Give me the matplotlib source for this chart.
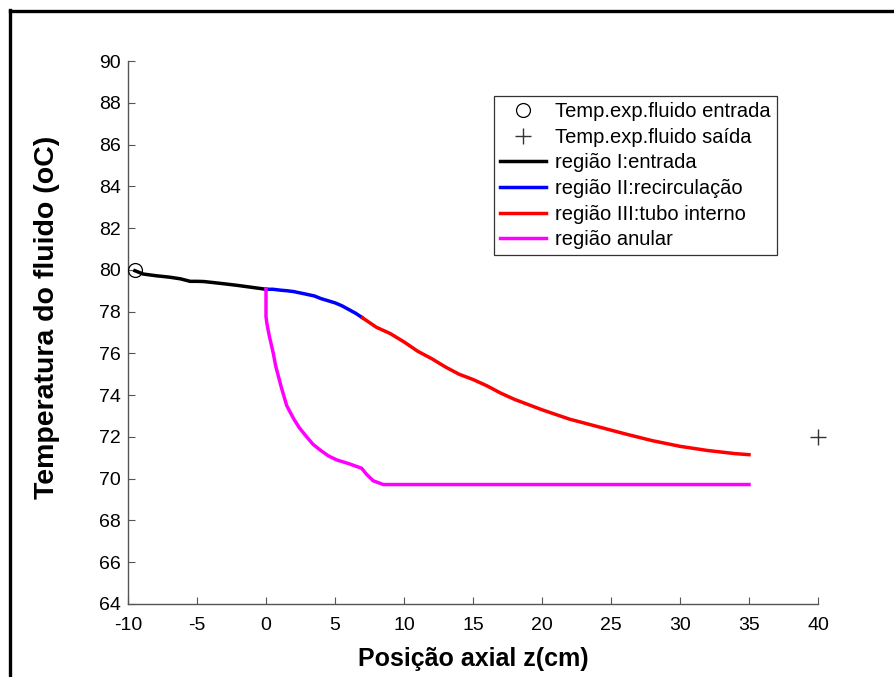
import matplotlib
matplotlib.use("Agg")
import matplotlib.pyplot as plt
from matplotlib.lines import Line2D

plt.rcParams['font.family'] = ['Liberation Sans', 'DejaVu Sans']
plt.rcParams['axes.unicode_minus'] = False

# Experimental points
z_in, T_in = [-9.5], [80.0]
z_out, T_out = [40.0], [72.0]

# Region I: inlet
z_reg1 = [-9.5, -8.9, -8.0, -7.0, -6.2, -5.5, -5.0, -4.5, -3.0, -2.0, -1.0, 0.0]
T_reg1 = [79.96, 79.80, 79.72, 79.65, 79.57, 79.45, 79.45, 79.44, 79.33, 79.25, 79.16, 79.07]

# Region II: recirculation
z_reg2 = [0.0, 0.5, 1.0, 1.5, 2.0, 2.8, 3.5, 4.0, 4.5, 5.0, 5.5, 6.0, 6.5, 7.0]
T_reg2 = [79.07, 79.07, 79.03, 79.00, 78.96, 78.85, 78.75, 78.62, 78.52, 78.42, 78.28, 78.10, 77.92, 77.70]

# Region III: inner tube
z_reg3 = [7.0, 8.0, 9.0, 10.0, 11.0, 12.0, 13.0, 14.0, 15.0, 16.0, 17.0, 18.0, 19.0,
          20.0, 22.0, 24.0, 26.0, 28.0, 30.0, 32.0, 34.0, 35.0]
T_reg3 = [77.70, 77.25, 76.95, 76.55, 76.10, 75.75, 75.35, 75.00, 74.75, 74.45, 74.10,
          73.80, 73.55, 73.30, 72.85, 72.50, 72.15, 71.82, 71.55, 71.35, 71.20, 71.15]

# Annular region
z_anul = [0.0, 0.0, 0.05, 0.1, 0.25, 0.53, 0.7, 0.9, 1.1, 1.5, 1.98, 2.4, 2.95, 3.4, 3.91,
          4.5, 5.12, 6.0, 6.93, 7.3, 7.77, 8.5, 15.0, 25.0, 35.0]
T_anul = [79.07, 77.76, 77.50, 77.30, 76.80, 76.00, 75.40, 74.90, 74.40, 73.50, 72.90,
          72.45, 72.00, 71.65, 71.38, 71.10, 70.90, 70.72, 70.50, 70.20, 69.90, 69.72,
          69.72, 69.72, 69.72]

xticks = list(range(-10, 45, 5))
yticks = list(range(64, 92, 2))

fig = plt.figure(figsize=(8.95, 6.77), dpi=100)
ax = fig.add_axes([128 / 895, 1 - 604 / 677, 690 / 895, 543 / 677])

lw = 2.5
ax.plot(z_in, T_in, linestyle='none', marker='o', markersize=10, clip_on=False,
        markerfacecolor='none', markeredgecolor='black', markeredgewidth=0.9, zorder=5)
ax.plot(z_out, T_out, linestyle='none', marker='+', markersize=12, clip_on=False,
        color='#333333', markeredgewidth=1.0, zorder=5)
ax.plot(z_reg1, T_reg1, color='black', lw=lw)
ax.plot(z_reg2, T_reg2, color='#0000ff', lw=lw)
ax.plot(z_reg3, T_reg3, color='#ff0000', lw=lw)
ax.plot(z_anul, T_anul, color='#ff00ff', lw=lw)

ax.set_xlim(-10, 40)
ax.set_ylim(64, 90)
ax.set_xticks(xticks)
ax.set_yticks(yticks)
ax.tick_params(direction='in', length=5, width=0.8, color='#555555', labelsize=14)
ax.tick_params(axis='x', pad=9)
ax.tick_params(axis='y', pad=5)
for s in ('top', 'right'):
    ax.spines[s].set_visible(False)
for s in ('left', 'bottom'):
    ax.spines[s].set_color('#555555')
    ax.spines[s].set_linewidth(1.0)

ax.set_xlabel('Posição axial z(cm)', fontsize=18, fontweight='bold', labelpad=10)
ax.set_ylabel('Temperatura do fluido (oC)', fontsize=20.5, fontweight='bold')
ax.yaxis.set_label_coords(-0.0985, 0.528)

handles = [
    Line2D([], [], linestyle='none', marker='o', markersize=10, markerfacecolor='none',
           markeredgecolor='black', markeredgewidth=0.9),
    Line2D([], [], linestyle='none', marker='+', markersize=12, color='#333333',
           markeredgewidth=1.0),
    Line2D([], [], color='black', lw=lw),
    Line2D([], [], color='#0000ff', lw=lw),
    Line2D([], [], color='#ff0000', lw=lw),
    Line2D([], [], color='#ff00ff', lw=lw),
]
labels = ['Temp.exp.fluido entrada', 'Temp.exp.fluido saída', 'região I:entrada',
          'região II:recirculação', 'região III:tubo interno', 'região anular']
leg = ax.legend(handles, labels, loc='upper left', bbox_to_anchor=(494 / 895, 1 - 96 / 677),
                bbox_transform=fig.transFigure, fontsize=14.5, frameon=True, fancybox=False,
                edgecolor='black', handlelength=2.3, handletextpad=0.45, labelspacing=0.33,
                borderpad=0.3, borderaxespad=0)
leg.get_frame().set_linewidth(0.9)

# Figure frame lines along the top and left edges
fig.add_artist(Line2D([10.5 / 895, 1.0], [1 - 10.5 / 677, 1 - 10.5 / 677],
                      transform=fig.transFigure, color='black', lw=2.4))
fig.add_artist(Line2D([10.5 / 895, 10.5 / 895], [0.0, 1 - 9.5 / 677],
                      transform=fig.transFigure, color='black', lw=2.4))

fig.savefig('out.png', dpi=100)
